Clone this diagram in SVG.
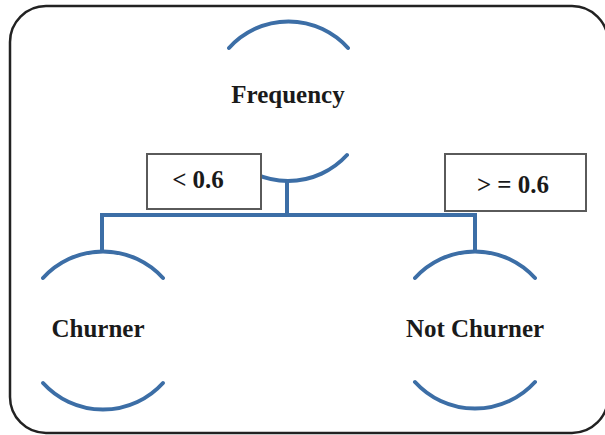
<svg xmlns="http://www.w3.org/2000/svg" width="605" height="435" viewBox="0 0 605 435">
<style>
.arc{fill:none;stroke:#3c6ea6;stroke-width:4;stroke-linecap:round}
.conn{fill:none;stroke:#3c6ea6;stroke-width:4}
.box{fill:#ffffff;stroke:#5a5a5a;stroke-width:2}
.lbl{font-family:"Liberation Serif","Times New Roman",serif;font-weight:bold;font-size:25px;fill:#1a1a1a;text-anchor:middle}
</style>
<rect x="10" y="6" width="598" height="427" rx="36" ry="36" fill="#ffffff" stroke="#222222" stroke-width="2.5"/>
<g id="connectors">
<path class="conn" d="M287 180 V215 M100 215 H475 M102 213 V250 M475 213 V250"/>
</g>
<g id="node-frequency">
<path class="arc" d="M229 48 A80 80 0 0 1 348 48"/>
<path class="arc" d="M229 155 A80 80 0 0 0 347 155"/>
<text class="lbl" x="288" y="103">Frequency</text>
</g>
<g id="label-lt">
<rect class="box" x="147" y="154" width="114" height="55"/>
<text class="lbl" x="198" y="188">&lt; 0.6</text>
</g>
<g id="label-ge">
<rect class="box" x="445" y="154" width="141" height="57"/>
<text class="lbl" x="513" y="193">&gt; = 0.6</text>
</g>
<g id="node-churner">
<path class="arc" d="M43 278 A81 81 0 0 1 163 278"/>
<path class="arc" d="M43 383 A81 81 0 0 0 163 383"/>
<text class="lbl" x="98" y="337">Churner</text>
</g>
<g id="node-not-churner">
<path class="arc" d="M415 278 A81 81 0 0 1 535 278"/>
<path class="arc" d="M415 382 A81 81 0 0 0 535 382"/>
<text class="lbl" x="475" y="337">Not Churner</text>
</g>
</svg>
